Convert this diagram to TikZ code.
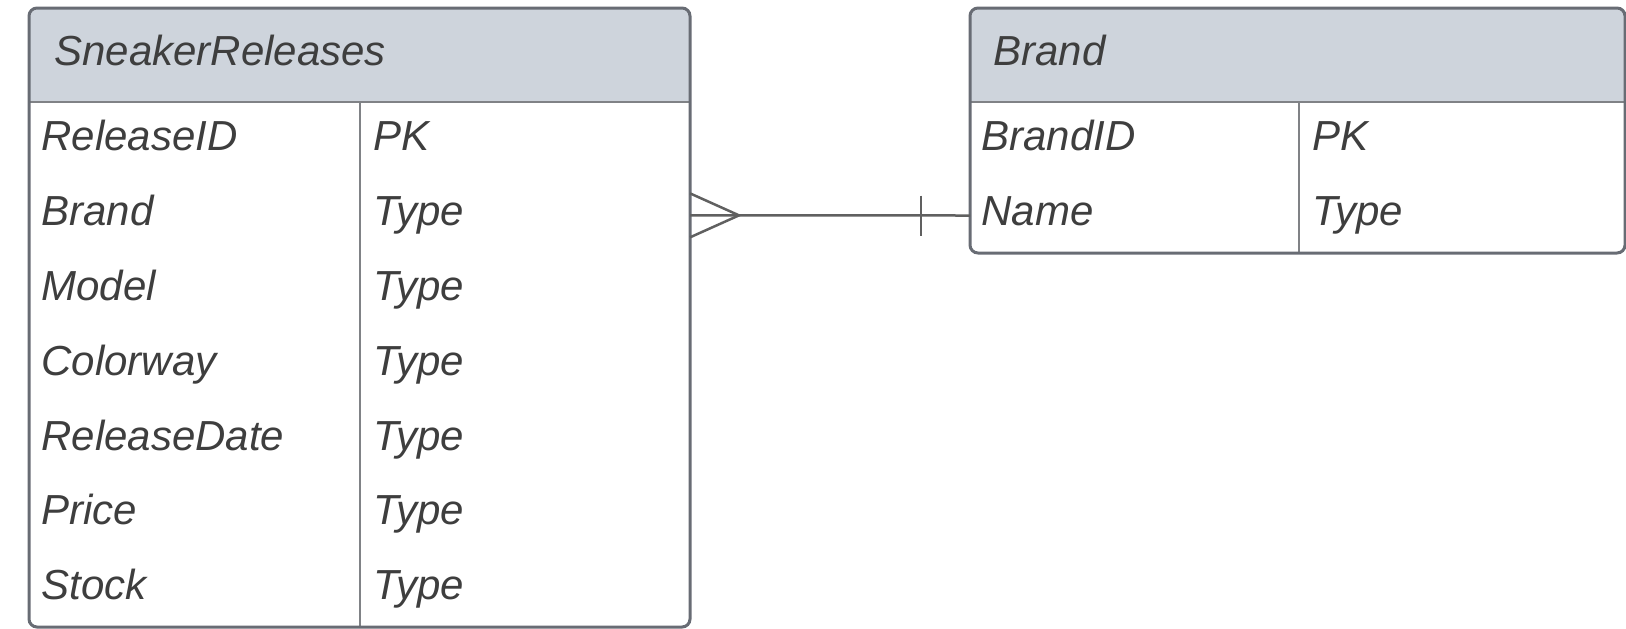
\documentclass[tikz,border=0pt]{standalone}
\usepackage{fontspec}
\setmainfont{Liberation Sans}
\usetikzlibrary{calc}
\definecolor{hdrfill}{RGB}{206,212,220}
\definecolor{edge}{RGB}{104,108,116}
\definecolor{rule}{RGB}{128,130,134}
\definecolor{ink}{RGB}{62,62,62}
\definecolor{linkcol}{RGB}{96,96,96}
\begin{document}
\begin{tikzpicture}[x=0.4pt, y=0.4pt,
    every node/.style={font=\fontsize{16.8}{20}\selectfont\itshape, text=ink, inner sep=0pt},
    cell/.style={anchor=west, text height=0.8em, text depth=0pt},
    tbl/.style={rectangle, anchor=north west},
    frame/.style={draw=edge, line width=1.2pt, rounded corners=3.2pt},
    sep/.style={draw=rule, line width=1.1pt},
    link/.style={draw=linkcol, line width=1pt}]
\useasboundingbox (0,0) rectangle (1626,-628);

% tables
\node[tbl, minimum width=264pt, minimum height=247.2pt] (releases) at (29,-8) {};
\node[tbl, minimum width=261.6pt, minimum height=97.6pt] (brand) at (970,-8) {};

% header shading
\foreach \t in {releases, brand} {
  \begin{scope}
    \clip[rounded corners=3.2pt] (\t.north west) rectangle (\t.south east);
    \fill[hdrfill] (\t.north west) rectangle ($(\t.north east)+(0,-94)$);
  \end{scope}
}

% titles
\node[cell] (rtitle) at (54,-55) {SneakerReleases};
\node[cell] (btitle) at (993,-55) {Brand};

% fields
\foreach \f/\k [count=\i] in {ReleaseID/PK, Brand/Type, Model/Type, Colorway/Type,
    ReleaseDate/Type, Price/Type, Stock/Type} {
  \node[cell] (r\i) at (41,{-103-74.9*(\i-0.5)}) {\f};
  \node[cell] (rt\i) at (373,{-103-74.9*(\i-0.5)}) {\k};
}
\foreach \f/\k [count=\i] in {BrandID/PK, Name/Type} {
  \node[cell] (b\i) at (981,{-103-75*(\i-0.5)}) {\f};
  \node[cell] (bt\i) at (1312,{-103-75*(\i-0.5)}) {\k};
}

% rules
\draw[sep] ($(releases.north west)+(0,-94)$) -- ($(releases.north east)+(0,-94)$);
\draw[sep] ($(releases.north west)+(331,-94)$) -- ($(releases.south west)+(331,0)$);
\draw[sep] ($(brand.north west)+(0,-94)$) -- ($(brand.north east)+(0,-94)$);
\draw[sep] ($(brand.north west)+(329,-94)$) -- ($(brand.south west)+(329,0)$);
\draw[frame] (releases.north west) rectangle (releases.south east);
\draw[frame] (brand.north west) rectangle (brand.south east);

% relation: many releases -- one brand
\draw[link] (releases.east |- r2) -- (brand.west |- b2);
\draw[link] ($(releases.east |- r2)+(0,22)$) -- ($(releases.east |- r2)+(49,0)$)
  -- ($(releases.east |- r2)+(0,-22)$);
\draw[link] ($(brand.west |- b2)+(-49,20)$) -- ($(brand.west |- b2)+(-49,-20)$);
\end{tikzpicture}
\end{document}
